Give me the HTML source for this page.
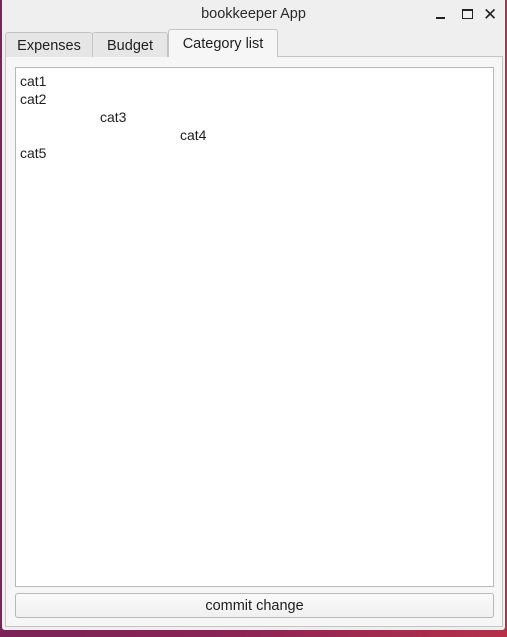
<!DOCTYPE html>
<html><head><style>
*{margin:0;padding:0;box-sizing:border-box}
body{width:507px;height:637px;overflow:hidden;background:linear-gradient(90deg,#7a2358,#8e2554 50%,#b5314a);position:relative;font-family:"Liberation Sans","DejaVu Sans",sans-serif;font-size:14px;color:#1e1e1e}
.win{position:absolute;left:2px;top:0;width:503px;height:630px;background:#efefef;border-radius:0 0 3px 3px}
.title{position:absolute;left:0;top:6px;width:503px;text-align:center;font-size:14.5px;color:#2a2a2a}
.tab{position:absolute;top:32px;height:25px;border:1px solid #c4c4c4;border-bottom:none;background:#e6e6e6;border-radius:3px 3px 0 0;text-align:center;line-height:26px;font-size:14.5px}
.pane{position:absolute;left:3px;top:56px;width:498px;height:571px;border:1px solid #c4c4c4;background:#f6f6f6}
.list{position:absolute;left:13px;top:67px;width:479px;height:520px;border:1px solid #b8b8b8;background:#fff}
.row{position:absolute;font-size:14px}
.btn{position:absolute;left:13px;top:593px;width:479px;height:25px;border:1px solid #b8b8b8;border-radius:3px;background:linear-gradient(#fafafa,#f0f0f0);text-align:center;line-height:24px;font-size:14.5px}
</style></head><body>
<div class="win">
<div class="title">bookkeeper App</div>
<div style="position:absolute;left:434px;top:17px;width:9px;height:2px;background:#222"></div>
<div style="position:absolute;left:460px;top:9px;width:11px;height:10px;border:1.5px solid #222;border-top-width:2.5px"></div>
<div style="position:absolute;left:481px;top:5px;font-size:17px;font-weight:bold;color:#222">✕</div>
<div class="pane"></div>
<div class="tab" style="left:3px;width:88px">Expenses</div>
<div class="tab" style="left:90px;width:76px">Budget</div>
<div class="tab" style="left:166px;top:29px;height:28px;width:110px;background:#f6f6f6;line-height:29px">Category list</div>
<div class="list">
<div class="row" style="left:4px;top:5px">cat1</div>
<div class="row" style="left:4px;top:23px">cat2</div>
<div class="row" style="left:84px;top:41px">cat3</div>
<div class="row" style="left:164px;top:59px">cat4</div>
<div class="row" style="left:4px;top:77px">cat5</div>
</div>
<div class="btn">commit change</div>
</div>
</body></html>
